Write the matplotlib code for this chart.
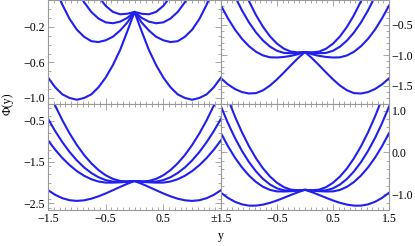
import matplotlib
matplotlib.use("Agg")
import matplotlib.pyplot as plt
from matplotlib.ticker import MultipleLocator, FixedLocator

plt.rcParams['font.family'] = ['Liberation Serif', 'DejaVu Serif']
plt.rcParams['font.size'] = 8.6

# sample points along y (same for every panel)
y = [-1.5, -1.375, -1.25, -1.125, -1.0, -0.875, -0.75, -0.625, -0.5, -0.375, -0.25, -0.125, 0.0,
     0.125, 0.25, 0.375, 0.5, 0.625, 0.75, 0.875, 1.0, 1.125, 1.25, 1.375, 1.5]

# top left panel
tl_a = [-0.77, -0.88, -0.96, -1.00, -1.02, -1.00, -0.96, -0.88, -0.77, -0.63, -0.46, -0.25, -0.03,
        -0.25, -0.46, -0.63, -0.77, -0.88, -0.96, -1.00, -1.02, -1.00, -0.96, -0.88, -0.77]
tl_b = [0.46, 0.24, 0.05, -0.11, -0.23, -0.31, -0.36, -0.37, -0.35, -0.31, -0.24, -0.15, -0.03,
        -0.15, -0.24, -0.31, -0.35, -0.37, -0.36, -0.31, -0.23, -0.11, 0.05, 0.24, 0.46]
tl_c = [1.11, 0.84, 0.60, 0.39, 0.22, 0.08, -0.03, -0.105, -0.148, -0.158, -0.14, -0.098, -0.03,
        -0.098, -0.14, -0.158, -0.148, -0.105, -0.03, 0.08, 0.22, 0.39, 0.60, 0.84, 1.11]
tl_d = [2.05, 1.65, 1.30, 0.98, 0.71, 0.48, 0.294, 0.146, 0.038, -0.03, -0.057, -0.051, -0.03,
        -0.051, -0.057, -0.03, 0.038, 0.146, 0.294, 0.48, 0.71, 0.98, 1.30, 1.65, 2.05]

# top right panel
tr_a = [-1.38, -1.48, -1.555, -1.605, -1.628, -1.622, -1.576, -1.498, -1.397, -1.283, -1.164, -1.05, -0.95,
        -1.05, -1.164, -1.283, -1.397, -1.498, -1.576, -1.622, -1.628, -1.605, -1.555, -1.48, -1.38]
tr_b = [-0.19, -0.40, -0.583, -0.734, -0.854, -0.945, -1.005, -1.036, -1.039, -1.03, -1.012, -0.985, -0.95,
        -0.985, -1.012, -1.03, -1.039, -1.036, -1.005, -0.945, -0.854, -0.734, -0.583, -0.40, -0.19]
tr_c = [0.49, 0.21, -0.04, -0.269, -0.465, -0.629, -0.761, -0.861, -0.929, -0.964, -0.969, -0.963, -0.95,
        -0.963, -0.969, -0.964, -0.929, -0.861, -0.761, -0.629, -0.465, -0.269, -0.04, 0.21, 0.49]
tr_d = [1.10, 0.75, 0.43, 0.14, -0.117, -0.345, -0.537, -0.693, -0.813, -0.896, -0.943, -0.955, -0.95,
        -0.955, -0.943, -0.896, -0.813, -0.693, -0.537, -0.345, -0.117, 0.14, 0.43, 0.75, 1.10]

# bottom left panel
bl_a = [-2.18, -2.294, -2.375, -2.424, -2.44, -2.426, -2.387, -2.33, -2.26, -2.182, -2.103, -2.027, -1.96,
        -2.027, -2.103, -2.182, -2.26, -2.33, -2.387, -2.426, -2.44, -2.424, -2.375, -2.294, -2.18]
bl_b = [-0.975, -1.204, -1.405, -1.576, -1.719, -1.832, -1.916, -1.972, -1.998, -1.999, -1.992, -1.979, -1.96,
        -1.979, -1.992, -1.999, -1.998, -1.972, -1.916, -1.832, -1.719, -1.576, -1.405, -1.204, -0.975]
bl_c = [-0.454, -0.755, -1.023, -1.259, -1.461, -1.63, -1.765, -1.868, -1.938, -1.974, -1.979, -1.973, -1.96,
        -1.973, -1.979, -1.974, -1.938, -1.868, -1.765, -1.63, -1.461, -1.259, -1.023, -0.755, -0.454]
bl_d = [0.253, -0.139, -0.494, -0.81, -1.089, -1.329, -1.531, -1.695, -1.821, -1.908, -1.958, -1.97, -1.96,
        -1.97, -1.958, -1.908, -1.821, -1.695, -1.531, -1.329, -1.089, -0.81, -0.494, -0.139, 0.253]

# bottom right panel
br_a = [-0.96, -1.083, -1.175, -1.236, -1.266, -1.266, -1.242, -1.199, -1.143, -1.078, -1.011, -0.946, -0.89,
        -0.946, -1.011, -1.078, -1.143, -1.199, -1.242, -1.266, -1.266, -1.236, -1.175, -1.083, -0.96]
br_b = [0.459, 0.148, -0.124, -0.356, -0.549, -0.702, -0.817, -0.891, -0.927, -0.929, -0.922, -0.909, -0.89,
        -0.909, -0.922, -0.929, -0.927, -0.891, -0.817, -0.702, -0.549, -0.356, -0.124, 0.148, 0.459]
br_c = [1.092, 0.696, 0.344, 0.036, -0.229, -0.45, -0.629, -0.763, -0.854, -0.902, -0.909, -0.903, -0.89,
        -0.903, -0.909, -0.902, -0.854, -0.763, -0.629, -0.45, -0.229, 0.036, 0.344, 0.696, 1.092]
br_d = [1.743, 1.276, 0.855, 0.478, 0.148, -0.138, -0.378, -0.573, -0.722, -0.827, -0.886, -0.90, -0.89,
        -0.90, -0.886, -0.827, -0.722, -0.573, -0.378, -0.138, 0.148, 0.478, 0.855, 1.276, 1.743]

# tick values / labels
tl_yticks = [-1.0, -0.6, -0.2]
tr_yticks = [-1.5, -1.0, -0.5]
bl_yticks = [-2.5, -1.5, -0.5]
br_yticks = [-1.0, 0.0, 1.0]
left_xticks = [-1.5, -0.5, 0.5]
right_xticks = [-1.5, -0.5, 0.5, 1.5]
right_xlabels = ['\u00b11.5', '\u22120.5', '0.5', '1.5']

blue = '#1f1ff0'
frame = '#999999'


def fmt(v):
    s = '%.1f' % v
    return s.replace('-', '\u2212')


fig = plt.figure(figsize=(4.15, 2.46), dpi=100)

W = 415.0
H = 246.0
ax_tl = fig.add_axes([48 / W, 1 - 104 / H, 173 / W, 104 / H])
ax_tr = fig.add_axes([221 / W, 1 - 104 / H, 168 / W, 104 / H])
ax_bl = fig.add_axes([48 / W, 1 - 210 / H, 173 / W, 106 / H])
ax_br = fig.add_axes([221 / W, 1 - 210 / H, 168 / W, 106 / H])

panels = [
    (ax_tl, [tl_a, tl_b, tl_c, tl_d], (-1.068, 0.104), tl_yticks, 0.1),
    (ax_tr, [tr_a, tr_b, tr_c, tr_d], (-1.80, -0.098), tr_yticks, 0.1),
    (ax_bl, [bl_a, bl_b, bl_c, bl_d], (-2.66, -0.099), bl_yticks, 0.2),
    (ax_br, [br_a, br_b, br_c, br_d], (-1.37, 1.155), br_yticks, 0.2),
]

for ax, curves, ylim, yt, ymin in panels:
    for c in curves:
        ax.plot(y, c, color=blue, lw=1.5, solid_joinstyle='round')
    ax.set_xlim(-1.5, 1.5)
    ax.set_ylim(*ylim)
    for s in ax.spines.values():
        s.set_color(frame)
        s.set_linewidth(0.8)
    ax.yaxis.set_major_locator(FixedLocator(yt))
    ax.yaxis.set_minor_locator(MultipleLocator(ymin))
    ax.xaxis.set_minor_locator(MultipleLocator(0.1))
    ax.tick_params(which='both', direction='in', top=True, bottom=True, left=True, right=True,
                   color=frame, width=0.6, labelsize=8.6, pad=2)
    ax.tick_params(which='major', length=4)
    ax.tick_params(which='minor', length=2)

# tick labels
ax_tl.set_yticklabels([fmt(v) for v in tl_yticks])
ax_bl.set_yticklabels([fmt(v) for v in bl_yticks])
ax_tr.yaxis.tick_right()
ax_br.yaxis.tick_right()
for ax in [ax_tr, ax_br]:
    ax.tick_params(which='both', left=True, right=True, direction='in', labelleft=False, labelright=True)
ax_tr.set_yticklabels([fmt(v) for v in tr_yticks])
ax_br.set_yticklabels([fmt(v) for v in br_yticks])

for ax in [ax_tl, ax_tr]:
    ax.set_xticks(right_xticks)
    ax.tick_params(labelbottom=False)

ax_bl.set_xticks(left_xticks)
ax_bl.set_xticklabels([fmt(v) for v in left_xticks])
ax_br.set_xticks(right_xticks)
ax_br.set_xticklabels(right_xlabels)

fig.text(8 / W, 1 - 104 / H, '\u03a6(y)', rotation=90, ha='center', va='center', fontsize=8.6)
fig.text(221 / W, 1 - 236 / H, 'y', ha='center', va='center', fontsize=8.6)

fig.savefig('out.png', dpi=100)
